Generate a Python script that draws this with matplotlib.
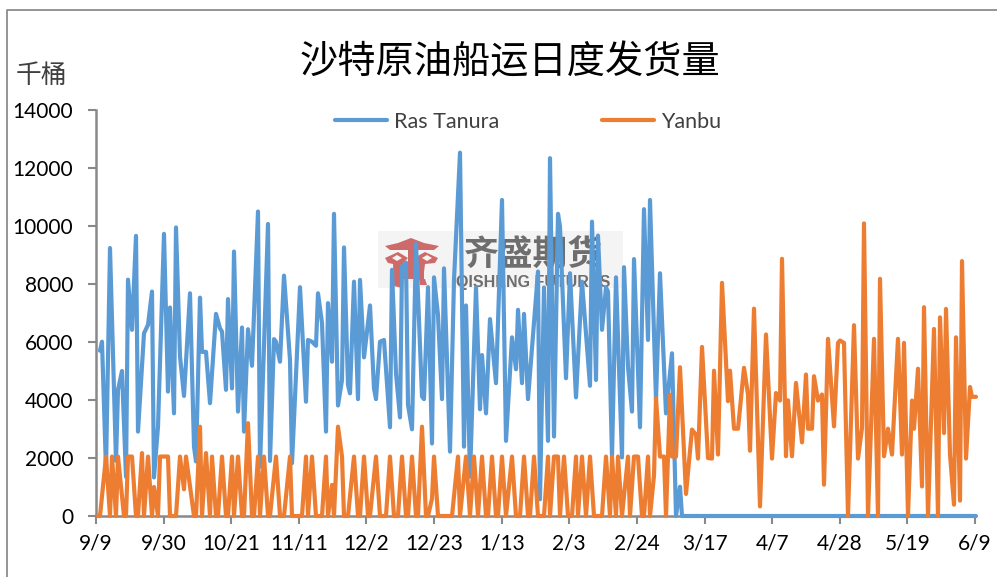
import matplotlib
matplotlib.use("Agg")
import matplotlib.pyplot as plt
import numpy as np
from matplotlib.patches import Polygon, Rectangle

plt.rcParams['font.family'] = ['Noto Sans CJK SC', 'DejaVu Sans']

W, H = 997, 577

date_labels = ['9/9', '9/30', '10/21', '11/11', '12/2', '12/23', '1/13', '2/3',
               '2/24', '3/17', '4/7', '4/28', '5/19', '6/9']
y_ticks = [0, 2000, 4000, 6000, 8000, 10000, 12000, 14000]

# record number along the x axis, value in thousand barrels
ras_idx = [2, 3, 5, 7, 10, 11, 13, 15, 16, 18, 20, 21, 24, 26, 28, 29, 31, 34, 36, 37, 39, 40,
           42, 44, 47, 49, 50, 52, 53, 55, 57, 60, 62, 63, 65, 66, 68, 69, 71, 73, 74, 76, 78,
           81, 82, 86, 87, 89, 90, 92, 94, 97, 98, 102, 105, 106, 108, 110, 111, 113, 115, 116,
           118, 119, 121, 123, 124, 126, 127, 129, 131, 132, 134, 137, 139, 140, 142, 144, 147,
           148, 150, 152, 153, 155, 156, 158, 160, 163, 164, 166, 168, 169, 171, 173, 174, 177,
           179, 182, 184, 185, 187, 190, 192, 193, 195, 197, 200, 203, 205, 208, 210, 211, 213,
           214, 216, 221, 222, 224, 226, 227, 229, 231, 232, 235, 237, 240, 243, 247, 248, 250,
           251, 253, 255, 256, 258, 260, 263, 264, 266, 268, 269, 272, 274, 276, 277, 280, 282,
           285, 288, 290, 292, 293, 440]
ras_vals = [5700, 6010, 1600, 9240, 1900, 4350, 5000, 1350, 8150, 6420, 9660, 2910, 6300, 6590,
            7740, 1330, 3080, 9730, 4290, 7190, 3540, 9950, 5500, 4140, 7680, 2390, 1880, 7530,
            5660, 5660, 3890, 6970, 6470, 6360, 4350, 7480, 4400, 9120, 3600, 6500, 2910, 6440,
            5180, 10500, 1700, 10070, 1900, 6100, 6010, 5320, 8290, 5380, 1820, 7890, 3940, 6070,
            6010, 5870, 7680, 6650, 2910, 7340, 5320, 10420, 3810, 4690, 9260, 4520, 4230, 8080,
            4030, 8140, 5470, 7260, 4400, 4030, 6010, 6070, 3060, 8490, 4920, 3400, 8600, 8740,
            3830, 2990, 9380, 4120, 4030, 7890, 2500, 8230, 6930, 4030, 8540, 2220, 8140, 12530,
            2390, 7260, 1360, 7880, 3680, 5550, 3540, 6790, 4580, 10900, 2590, 6160, 5060, 7110,
            4580, 6970, 4030, 8430, 575, 7880, 2590, 12340, 2740, 10420, 9980, 4750, 8370, 4090,
            8080, 4490, 10150, 4690, 9670, 6420, 7880, 7740, 2050, 8230, 2020, 8580, 5150, 3600,
            8860, 3060, 10580, 6070, 10900, 4000, 8370, 3540, 5610, 0, 1010, 0, 0]

yanbu_idx = [1, 2, 5, 7, 8, 10, 11, 14, 15, 16, 18, 20, 21, 23, 24, 26, 28, 29, 31, 32, 36, 37,
             40, 42, 44, 45, 49, 50, 52, 53, 55, 57, 58, 60, 61, 63, 65, 66, 68, 69, 71, 73, 74,
             76, 78, 79, 81, 82, 84, 86, 87, 90, 92, 94, 97, 98, 102, 103, 105, 106, 108, 110,
             112, 113, 115, 116, 118, 119, 121, 123, 124, 126, 129, 131, 132, 134, 136, 137, 140,
             142, 145, 147, 149, 151, 153, 155, 156, 158, 160, 161, 163, 165, 166, 168, 169, 171,
             178, 181, 182, 185, 187, 189, 191, 193, 195, 196, 198, 200, 201, 203, 205, 208, 210,
             212, 214, 216, 217, 219, 221, 224, 226, 227, 229, 231, 232, 234, 236, 238, 240, 241,
             243, 245, 247, 249, 253, 255, 257, 258, 260, 261, 263, 266, 267, 269, 271, 273, 274,
             276, 277, 279, 280, 282, 284, 285, 287, 288, 290, 292, 295, 298, 300, 301, 303, 306,
             308, 309, 311, 313, 316, 317, 319, 321, 324, 326, 327, 329, 332, 335, 338, 340, 342,
             343, 345, 346, 348, 350, 353, 355, 356, 358, 359, 361, 363, 364, 366, 369, 371, 372,
             374, 376, 379, 381, 383, 384, 386, 389, 391, 392, 394, 396, 398, 401, 403, 404, 406,
             408, 409, 411, 413, 414, 416, 419, 421, 422, 424, 425, 427, 429, 430, 432, 433, 435,
             437, 438, 440]
yanbu_vals = [0, 0, 2050, 0, 2050, 0, 2050, 0, 0, 2050, 2050, 0, 0, 2170, 0, 2050, 0, 1000, 0, 2050,
              2050, 0, 0, 2050, 920, 2050, 0, 0, 3080, 0, 2170, 0, 2050, 0, 0, 2050, 0, 0, 2050, 0,
              2050, 0, 0, 3200, 0, 0, 2050, 0, 2050, 0, 0, 2050, 0, 0, 2050, 0, 0, 0, 2050, 0, 2050,
              0, 0, 0, 2050, 0, 1070, 0, 3080, 2050, 0, 0, 2050, 0, 0, 2050, 0, 0, 2050, 0, 0, 2050,
              0, 0, 2050, 0, 0, 2050, 0, 0, 3080, 0, 0, 600, 2050, 0, 0, 2050, 0, 2050, 0, 2050, 0,
              2050, 0, 0, 2050, 0, 0, 2050, 0, 2050, 0, 0, 2050, 0, 0, 2050, 0, 0, 2050, 0, 2050,
              2050, 0, 2050, 0, 0, 2050, 0, 2050, 0, 2050, 0, 0, 2050, 0, 2050, 0, 2050, 0, 2050, 0,
              2050, 2050, 0, 0, 2050, 0, 1400, 4060, 2050, 2050, 0, 4180, 2050, 2050, 5130, 760,
              2980, 2800, 1980, 5830, 2000, 1980, 5010, 2120, 8040, 3960, 5010, 3010, 3010, 5110,
              4190, 2250, 7150, 330, 6260, 1980, 4240, 3980, 8870, 2060, 3990, 2060, 4590, 2540,
              4880, 3010, 3010, 4820, 3980, 4190, 1080, 6110, 3090, 5970, 6050, 5970, 0, 6580, 1980,
              3040, 10090, 0, 6110, 0, 8180, 2060, 3010, 2120, 6110, 2120, 5970, 0, 3980, 3010, 5080,
              1020, 7200, 0, 6450, 0, 6850, 2860, 7140, 2120, 390, 6160, 530, 8790, 1980, 4450, 4110,
              4110]


def fx(px):
    return px / W


def fy(py):
    return 1 - py / H


fig = plt.figure(figsize=(W / 100, H / 100), dpi=100)
ax = fig.add_axes([fx(96), fy(516), (975 - 96) / W, (516 - 110) / H])
ax.patch.set_alpha(0)

# outer chart frame
fig.add_artist(plt.Line2D([fx(7), fx(7), fx(997)], [fy(577), fy(10), fy(10)], color='#8c8c8c', lw=1.3))

# watermark
fig.add_artist(Rectangle((fx(378), fy(288)), 245 / W, 57 / H, transform=fig.transFigure,
                         facecolor='#f5f4f4', edgecolor='none', zorder=-2))
roof = [(385, 246), (398, 243), (411, 238), (424, 243), (439, 246), (434, 250), (390, 250)]
left_eye = [(385, 258), (398, 252), (408, 258), (403, 263), (402, 288), (394, 286), (393, 264), (388, 263)]
right_eye = [(438, 258), (425, 252), (414, 258), (418, 263), (419, 272), (424, 272), (425, 264), (435, 263)]
centre = [(408, 250), (414, 250), (414, 272), (424, 272), (424, 279), (402, 279), (402, 272), (408, 272)]
right_leg = [(419, 279), (425, 279), (427, 285), (420, 285)]
for pts in (roof, left_eye, right_eye, centre, right_leg):
    fig.add_artist(Polygon([(fx(a), fy(b)) for a, b in pts], transform=fig.transFigure,
                           facecolor='#cf6a6a', edgecolor='none', zorder=-1))
for cx in (397, 427):
    fig.add_artist(Polygon([(fx(cx - 5), fy(258)), (fx(cx), fy(255)), (fx(cx + 5), fy(258)), (fx(cx), fy(261))],
                           transform=fig.transFigure, facecolor='#f5f4f4', edgecolor='none', zorder=-1))
fig.text(fx(533), fy(254), '齐盛期货', ha='center', va='center', fontsize=25, fontweight='bold',
         color='#6e6e6e', zorder=-1)
fig.text(fx(533), fy(282), 'QISHENG FUTURES', ha='center', va='center', fontsize=11.5, fontweight='bold',
         family=['Liberation Sans'], color='#6e6e6e', zorder=-1)

line_kw = dict(lw=3.0, solid_joinstyle='round', solid_capstyle='round', clip_on=False)
ax.plot(ras_idx, ras_vals, color='#5B9BD5', label='Ras Tanura', zorder=3, **line_kw)
ax.plot(yanbu_idx, yanbu_vals, color='#ED7D31', label='Yanbu', zorder=4, **line_kw)

ax.set_xlim(0, 439.5)
ax.set_ylim(0, 14000)
ax.set_xticks(np.linspace(0, 439.5, len(date_labels)))
ax.set_xticklabels(date_labels, family=['Lato'], fontsize=15)
ax.set_yticks(y_ticks)
ax.set_yticklabels([str(v) for v in y_ticks], family=['Lato'], fontsize=15)
ax.tick_params(axis='x', length=5.5, width=1.5, color='#898989', pad=7)
ax.tick_params(axis='y', length=5.5, width=1.5, color='#898989', pad=11)
for side in ('top', 'right'):
    ax.spines[side].set_visible(False)
for side in ('left', 'bottom'):
    ax.spines[side].set_color('#898989')
    ax.spines[side].set_linewidth(1.8)

leg = ax.legend(loc='center', bbox_to_anchor=(fx(528), fy(122)), bbox_transform=fig.transFigure, ncol=2,
                frameon=False, handlelength=2.42, handletextpad=0.3, columnspacing=4.8,
                prop={'family': 'Lato', 'size': 15.5})
for t in leg.get_texts():
    t.set_color('#404040')

fig.text(fx(510), fy(63), '沙特原油船运日度发货量', ha='center', va='center', fontsize=27.5, color='black')
fig.text(fx(41), fy(76), '千桶', ha='center', va='center', fontsize=18.5, color='#404040')

fig.savefig('out.png', dpi=100)
